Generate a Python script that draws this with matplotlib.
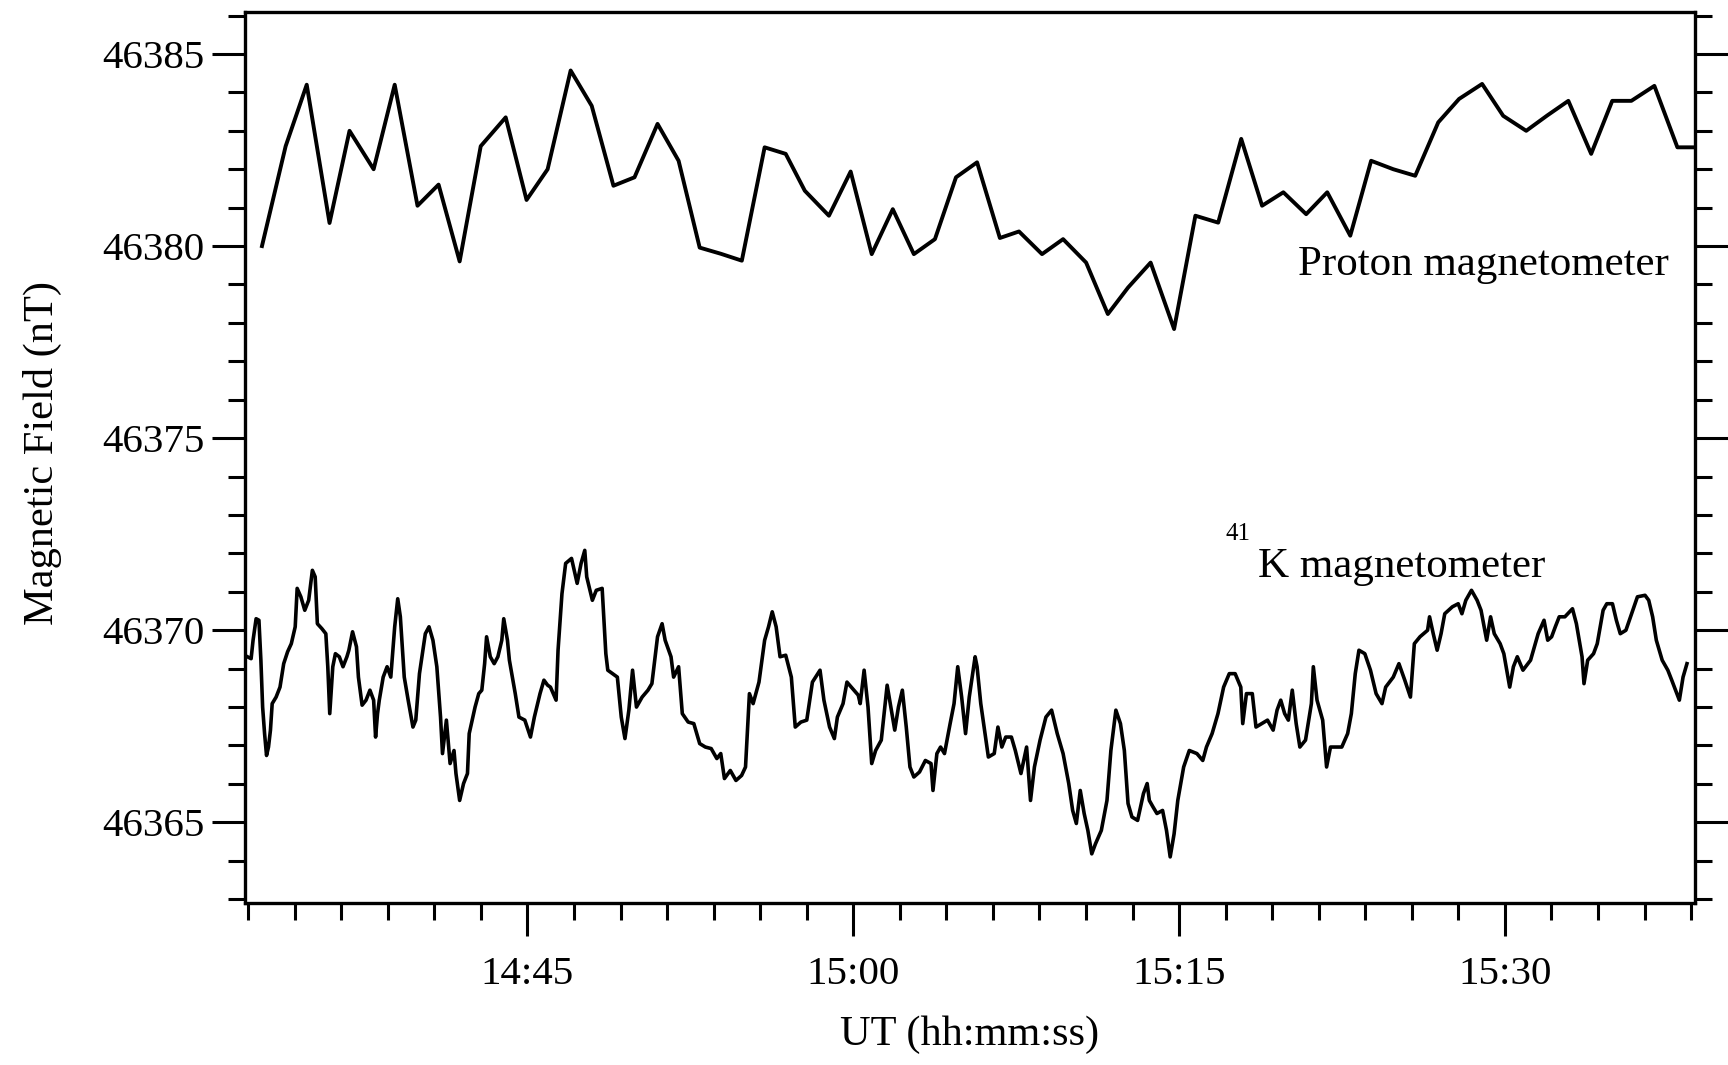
import matplotlib
matplotlib.use("Agg")
import matplotlib.pyplot as plt
from matplotlib.ticker import FixedLocator, MultipleLocator

plt.rcParams['font.family'] = ['Liberation Serif', 'DejaVu Serif']

# ========== 数据（时间: 14:00 之后的分钟数，磁场: nT） ==========

proton_t = [32.78, 33.87, 34.84, 35.89, 36.81, 37.92, 38.89, 39.94, 40.91, 41.88,
            42.85, 44.00, 44.96, 45.93, 46.99, 47.96, 48.96, 49.93, 50.99, 51.96,
            52.93, 53.90, 54.87, 55.92, 56.89, 57.77, 58.88, 59.88, 60.85, 61.82,
            62.79, 63.76, 64.73, 65.70, 66.75, 67.63, 68.69, 69.66, 70.72, 71.72,
            72.65, 73.69, 74.77, 75.75, 76.80, 77.86, 78.82, 79.80, 80.85, 81.82,
            82.88, 83.84, 84.86, 85.87, 86.93, 87.89, 88.95, 89.92, 90.98, 91.95,
            92.92, 93.97, 94.94, 95.82, 96.88, 97.94, 98.99]
proton_b = [46380.00, 46382.60, 46384.20, 46380.60, 46383.00, 46382.00, 46384.20, 46381.05, 46381.60, 46379.60,
            46382.60, 46383.35, 46381.20, 46382.00, 46384.57, 46383.65, 46381.57, 46381.79, 46383.18, 46382.22,
            46379.96, 46379.80, 46379.62, 46382.57, 46382.40, 46381.44, 46380.79, 46381.94, 46379.79, 46380.96,
            46379.79, 46380.18, 46381.79, 46382.18, 46380.21, 46380.38, 46379.79, 46380.18, 46379.57, 46378.23,
            46378.92, 46379.57, 46377.84, 46380.79, 46380.61, 46382.79, 46381.05, 46381.40, 46380.83, 46381.40,
            46380.27, 46382.22, 46382.00, 46381.83, 46383.22, 46383.83, 46384.22, 46383.39, 46383.00, 46383.40,
            46383.78, 46382.40, 46383.78, 46383.78, 46384.17, 46382.57, 46382.57]

k_t = [32.11, 32.28, 32.37, 32.51, 32.64, 32.73, 32.81, 32.90, 32.99, 33.08,
       33.17, 33.25, 33.43, 33.61, 33.78, 33.96, 34.13, 34.31, 34.40, 34.57,
       34.75, 34.93, 35.10, 35.23, 35.33, 35.54, 35.72, 35.81, 35.90, 36.04,
       36.16, 36.34, 36.51, 36.69, 36.78, 36.95, 37.13, 37.22, 37.39, 37.57,
       37.75, 37.92, 38.01, 38.10, 38.18, 38.36, 38.54, 38.71, 38.89, 39.03,
       39.15, 39.33, 39.51, 39.73, 39.86, 40.03, 40.30, 40.47, 40.65, 40.83,
       41.00, 41.09, 41.27, 41.44, 41.62, 41.71, 41.88, 42.06, 42.24, 42.32,
       42.59, 42.76, 42.90, 43.03, 43.12, 43.29, 43.47, 43.64, 43.82, 43.91,
       44.08, 44.17, 44.44, 44.61, 44.88, 45.14, 45.32, 45.58, 45.76, 45.93,
       46.06, 46.32, 46.41, 46.59, 46.76, 47.03, 47.29, 47.47, 47.64, 47.73,
       47.99, 48.17, 48.44, 48.61, 48.70, 49.14, 49.32, 49.49, 49.67, 49.84,
       50.02, 50.28, 50.55, 50.73, 50.99, 51.20, 51.34, 51.61, 51.73, 51.96,
       52.13, 52.40, 52.66, 52.93, 53.19, 53.46, 53.72, 53.90, 54.07, 54.34,
       54.60, 54.86, 55.04, 55.13, 55.22, 55.39, 55.66, 55.92, 56.10, 56.27,
       56.45, 56.63, 56.89, 57.15, 57.33, 57.59, 57.86, 58.12, 58.47, 58.65,
       58.91, 59.13, 59.27, 59.53, 59.71, 59.97, 60.23, 60.32, 60.50, 60.68,
       60.85, 61.03, 61.29, 61.56, 61.73, 61.91, 62.08, 62.26, 62.44, 62.61,
       62.79, 63.05, 63.32, 63.58, 63.67, 63.85, 64.02, 64.20, 64.46, 64.64,
       64.81, 64.99, 65.17, 65.34, 65.61, 65.70, 65.87, 66.22, 66.49, 66.66,
       66.84, 67.02, 67.28, 67.46, 67.72, 67.98, 68.16, 68.34, 68.60, 68.87,
       69.13, 69.39, 69.66, 69.92, 70.10, 70.27, 70.45, 70.63, 70.80, 70.98,
       71.15, 71.42, 71.68, 71.86, 72.09, 72.30, 72.48, 72.65, 72.83, 73.09,
       73.36, 73.53, 73.63, 73.80, 73.98, 74.24, 74.42, 74.59, 74.77, 74.94,
       75.21, 75.47, 75.82, 76.09, 76.26, 76.52, 76.79, 77.05, 77.31, 77.58,
       77.84, 77.93, 78.10, 78.37, 78.54, 78.81, 79.07, 79.33, 79.51, 79.68,
       79.86, 80.03, 80.21, 80.39, 80.56, 80.82, 81.09, 81.18, 81.35, 81.61,
       81.79, 81.97, 82.23, 82.49, 82.76, 82.93, 83.11, 83.28, 83.55, 83.81,
       84.07, 84.34, 84.51, 84.86, 85.12, 85.39, 85.65, 85.83, 86.09, 86.44,
       86.53, 86.70, 86.88, 87.06, 87.23, 87.58, 87.85, 88.02, 88.20, 88.46,
       88.72, 88.90, 89.16, 89.34, 89.51, 89.78, 89.95, 90.22, 90.39, 90.57,
       90.83, 91.18, 91.36, 91.53, 91.80, 91.97, 92.15, 92.32, 92.50, 92.76,
       93.11, 93.29, 93.55, 93.64, 93.81, 94.08, 94.25, 94.52, 94.69, 94.95,
       95.13, 95.31, 95.57, 95.83, 96.10, 96.45, 96.62, 96.80, 96.97, 97.24,
       97.50, 97.68, 98.03, 98.20, 98.38]
k_b = [46369.31, 46369.26, 46369.74, 46370.30, 46370.26, 46369.22, 46368.00, 46367.31, 46366.74, 46366.96,
       46367.40, 46368.09, 46368.26, 46368.52, 46369.13, 46369.44, 46369.65, 46370.09, 46371.09, 46370.87,
       46370.52, 46370.78, 46371.56, 46371.39, 46370.17, 46370.04, 46369.91, 46369.05, 46367.83, 46369.05,
       46369.39, 46369.31, 46369.05, 46369.31, 46369.48, 46369.96, 46369.57, 46368.78, 46368.05, 46368.18,
       46368.44, 46368.18, 46367.22, 46367.83, 46368.18, 46368.78, 46369.05, 46368.78, 46370.09, 46370.82,
       46370.35, 46368.78, 46368.18, 46367.48, 46367.66, 46368.87, 46369.91, 46370.09, 46369.74, 46369.05,
       46367.74, 46366.79, 46367.66, 46366.53, 46366.87, 46366.27, 46365.57, 46366.01, 46366.27, 46367.31,
       46368.00, 46368.35, 46368.44, 46369.13, 46369.83, 46369.31, 46369.13, 46369.31, 46369.74, 46370.30,
       46369.74, 46369.22, 46368.35, 46367.74, 46367.66, 46367.22, 46367.74, 46368.35, 46368.70, 46368.57,
       46368.52, 46368.18, 46369.48, 46370.95, 46371.74, 46371.87, 46371.22, 46371.74, 46372.08, 46371.39,
       46370.78, 46371.04, 46371.09, 46369.39, 46368.96, 46368.78, 46367.74, 46367.18, 46367.92, 46368.96,
       46368.00, 46368.26, 46368.44, 46368.61, 46369.83, 46370.17, 46369.74, 46369.31, 46368.78, 46369.05,
       46367.83, 46367.61, 46367.57, 46367.05, 46366.96, 46366.92, 46366.66, 46366.79, 46366.14, 46366.35,
       46366.09, 46366.22, 46366.44, 46367.40, 46368.35, 46368.09, 46368.65, 46369.74, 46370.09, 46370.48,
       46370.09, 46369.31, 46369.35, 46368.78, 46367.48, 46367.61, 46367.66, 46368.65, 46368.96, 46368.18,
       46367.48, 46367.18, 46367.74, 46368.09, 46368.65, 46368.48, 46368.31, 46368.09, 46368.96, 46368.00,
       46366.53, 46366.87, 46367.14, 46368.57, 46368.00, 46367.40, 46368.00, 46368.44, 46367.48, 46366.44,
       46366.18, 46366.31, 46366.61, 46366.53, 46365.83, 46366.79, 46366.96, 46366.79, 46367.57, 46368.09,
       46369.05, 46368.26, 46367.31, 46368.26, 46369.31, 46369.05, 46368.09, 46366.70, 46366.79, 46367.48,
       46366.96, 46367.22, 46367.22, 46366.87, 46366.27, 46366.96, 46365.57, 46366.44, 46367.14, 46367.74,
       46367.92, 46367.31, 46366.79, 46366.01, 46365.31, 46364.97, 46365.83, 46365.23, 46364.79, 46364.18,
       46364.44, 46364.79, 46365.57, 46366.87, 46367.92, 46367.57, 46366.87, 46365.49, 46365.14, 46365.05,
       46365.75, 46366.01, 46365.57, 46365.40, 46365.23, 46365.31, 46364.79, 46364.10, 46364.70, 46365.57,
       46366.44, 46366.87, 46366.79, 46366.61, 46366.96, 46367.31, 46367.83, 46368.52, 46368.87, 46368.87,
       46368.52, 46367.57, 46368.35, 46368.35, 46367.48, 46367.57, 46367.66, 46367.40, 46367.92, 46368.18,
       46367.83, 46367.66, 46368.44, 46367.57, 46366.96, 46367.14, 46368.09, 46369.05, 46368.18, 46367.66,
       46366.44, 46366.96, 46366.96, 46366.96, 46367.31, 46367.83, 46368.87, 46369.48, 46369.39, 46368.96,
       46368.35, 46368.09, 46368.52, 46368.78, 46369.13, 46368.70, 46368.26, 46369.65, 46369.83, 46370.00,
       46370.35, 46369.91, 46369.48, 46369.91, 46370.43, 46370.61, 46370.69, 46370.43, 46370.78, 46371.04,
       46370.78, 46370.52, 46369.74, 46370.35, 46369.91, 46369.65, 46369.39, 46368.52, 46369.05, 46369.31,
       46368.96, 46369.22, 46369.57, 46369.91, 46370.26, 46369.74, 46369.83, 46370.09, 46370.35, 46370.35,
       46370.56, 46370.17, 46369.31, 46368.61, 46369.22, 46369.39, 46369.65, 46370.52, 46370.69, 46370.69,
       46370.26, 46369.91, 46370.00, 46370.43, 46370.87, 46370.91, 46370.78, 46370.35, 46369.74, 46369.22,
       46368.96, 46368.70, 46368.18, 46368.78, 46369.13]

x_major = [45, 60, 75, 90]
x_labels = ["14:45", "15:00", "15:15", "15:30"]
y_major = [46365, 46370, 46375, 46380, 46385]

# ========== 绘图 ==========

fig = plt.figure(figsize=(17.28, 10.65), dpi=100)
ax = fig.add_axes([0.1418, 0.1521, 0.8391, 0.8369])

ax.plot(proton_t, proton_b, color='black', lw=2.8)
ax.plot(k_t, k_b, color='black', lw=2.6)

ax.set_xlim(32.0, 98.75)
ax.set_ylim(46362.9, 46386.1)

ax.set_xticks(x_major)
ax.set_xticklabels(x_labels)
ax.xaxis.set_minor_locator(FixedLocator([45 + k * 15 / 7 for k in range(-6, 26)]))
ax.set_yticks(y_major)
ax.set_yticklabels([str(v) for v in y_major])
ax.yaxis.set_minor_locator(MultipleLocator(1))

ax.tick_params(axis='both', which='both', direction='out', width=2.2, colors='black')
ax.tick_params(axis='both', which='major', length=24, labelsize=29.5)
ax.tick_params(axis='both', which='minor', length=12)
ax.tick_params(axis='y', which='both', left=True, right=True, pad=5)
ax.tick_params(axis='x', which='both', top=False, bottom=True)
ax.tick_params(axis='x', which='major', pad=14)

for s in ax.spines.values():
    s.set_linewidth(2.4)

ax.set_ylabel("Magnetic Field (nT)", fontsize=30.5)
ax.yaxis.set_label_coords(-0.140, 0.505)
ax.yaxis.label.set_va('center')
ax.set_xlabel("UT (hh:mm:ss)", fontsize=30.5)
ax.xaxis.set_label_coords(0.5, -0.148)
ax.xaxis.label.set_va('center')

ax.text(80.48, 46379.51, "Proton magnetometer", fontsize=31, va='center', ha='left')
ax.text(77.12, 46372.50, "41", fontsize=18, va='center', ha='left')
ax.text(78.64, 46371.65, "K magnetometer", fontsize=31, va='center', ha='left')

fig.savefig("out.png", dpi=100)
